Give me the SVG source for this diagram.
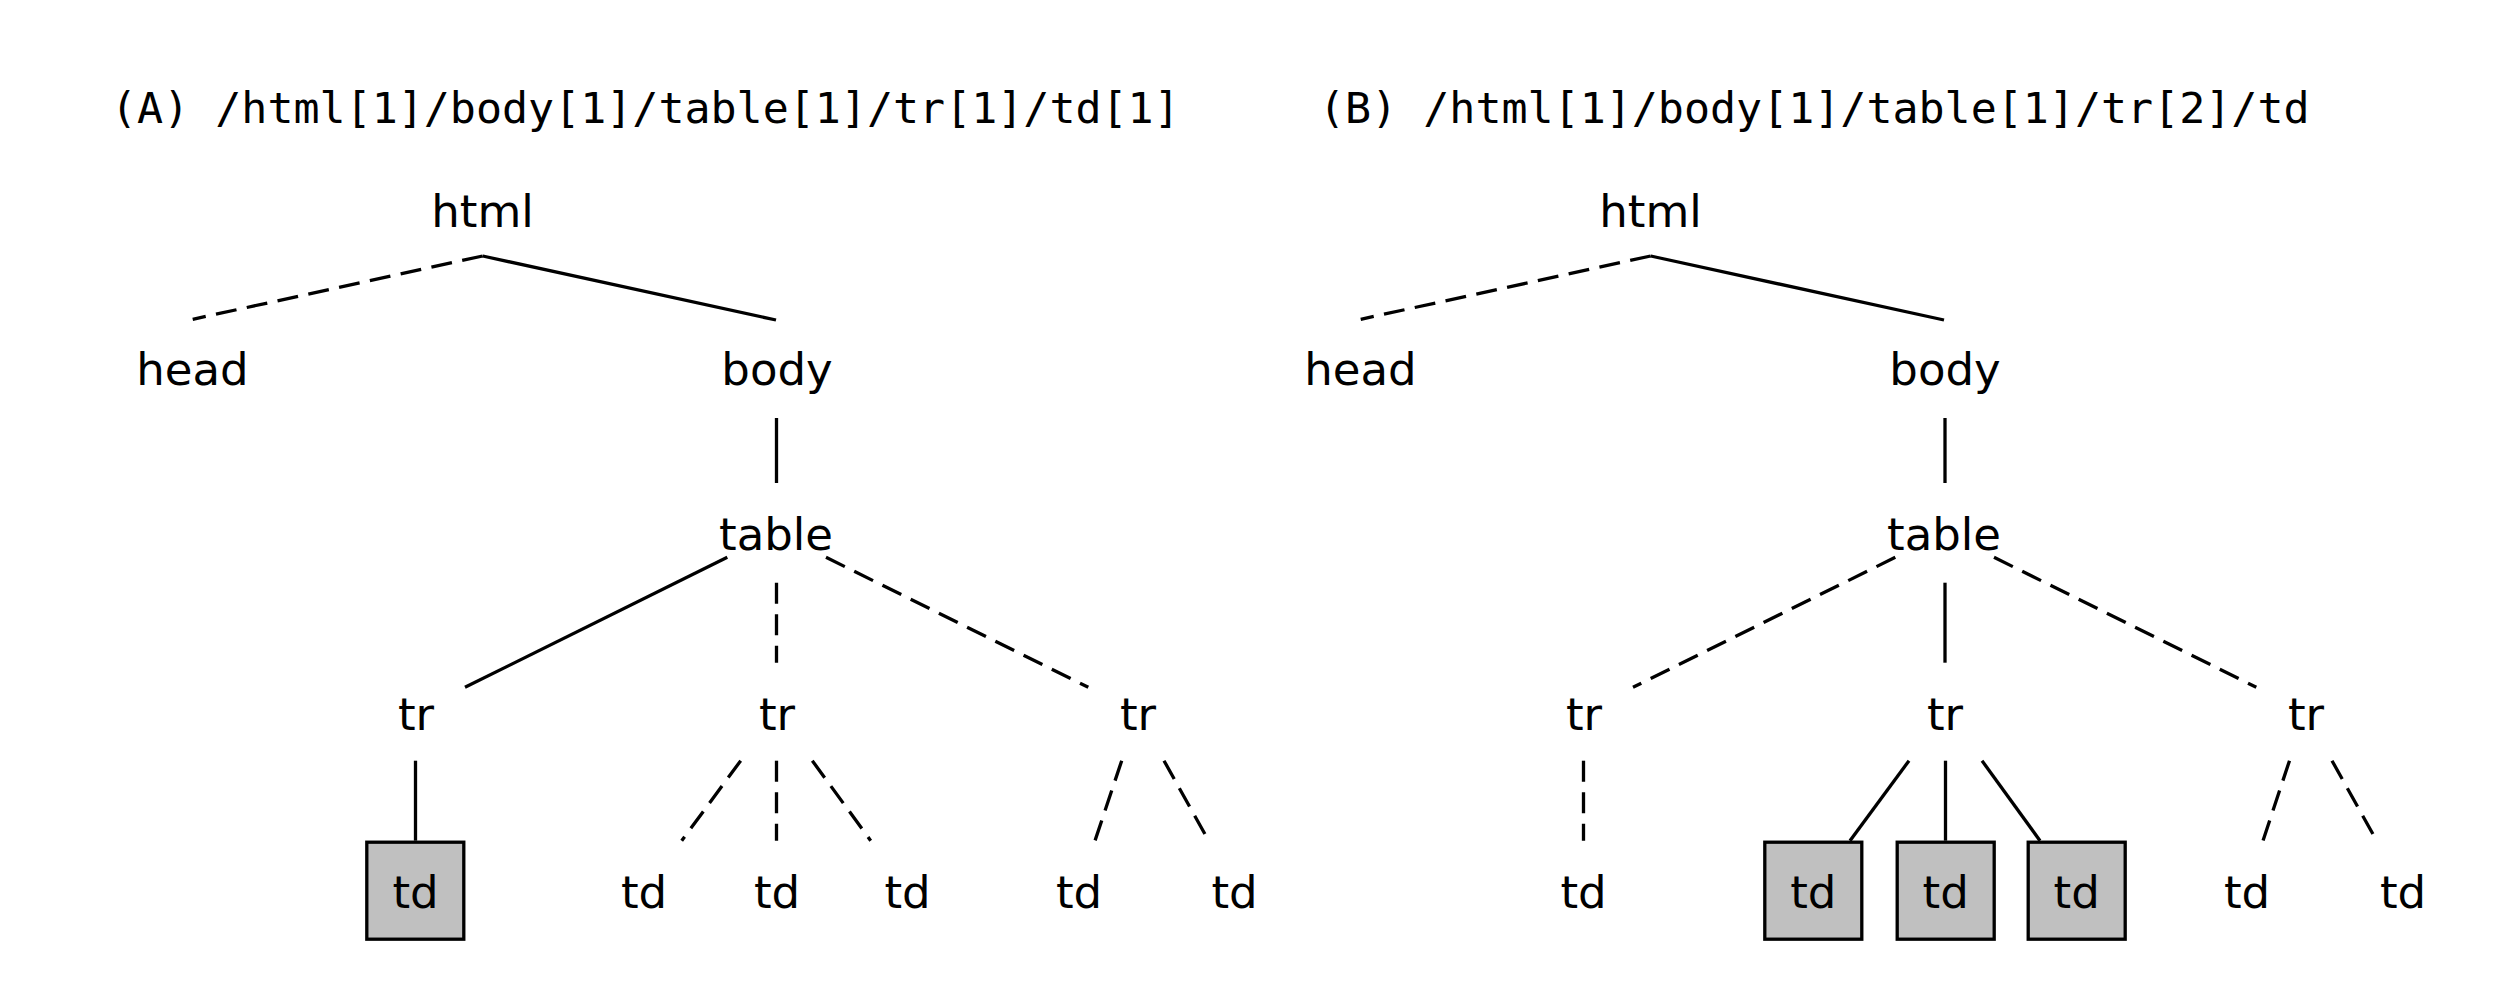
<svg xmlns="http://www.w3.org/2000/svg" width="2513" height="1000" viewBox="0 0 2513 1000">
<style>
.lbl{font-family:"DejaVu Sans",sans-serif;font-size:45px;text-anchor:middle;fill:#000}
.title{font-family:"DejaVu Sans Mono",monospace;font-size:43.3px;fill:#000}
.e{stroke:#000;stroke-width:3.3;fill:none}
.d{stroke-dasharray:21 10.5}
.box{fill:#c0c0c0;stroke:#000;stroke-width:3.3}
</style>
<rect width="2513" height="1000" fill="#fff"/>
<text class="title" x="111" y="123">(A) /html[1]/body[1]/table[1]/tr[1]/td[1]</text>
<text class="title" x="1319" y="123">(B) /html[1]/body[1]/table[1]/tr[2]/td</text>
<g id="connectors">
<line class="e d" x1="482.7" y1="256" x2="192.7" y2="319.3"/>
<line class="e" x1="482.7" y1="256" x2="776" y2="320"/>
<line class="e" x1="776.5" y1="418" x2="776.5" y2="483"/>
<line class="e" x1="727.3" y1="557.3" x2="465" y2="687.3"/>
<line class="e d" x1="776.5" y1="582.7" x2="776.5" y2="662.7"/>
<line class="e d" x1="826" y1="557.3" x2="1088.3" y2="687.3"/>
<line class="e" x1="415.5" y1="760.7" x2="415.5" y2="840.7"/>
<line class="e d" x1="740.7" y1="760.7" x2="681.7" y2="840.7"/>
<line class="e d" x1="776.5" y1="760.7" x2="776.5" y2="840.7"/>
<line class="e d" x1="812.3" y1="760.7" x2="870.7" y2="840.7"/>
<line class="e d" x1="1121.7" y1="760.7" x2="1095" y2="840.7"/>
<line class="e d" x1="1164" y1="760.7" x2="1208.6" y2="840.7"/>
<line class="e d" x1="1650.7" y1="256" x2="1360.7" y2="319.3"/>
<line class="e" x1="1650.7" y1="256" x2="1944" y2="320"/>
<line class="e" x1="1945" y1="418" x2="1945" y2="483"/>
<line class="e d" x1="1895.3" y1="557.3" x2="1633" y2="687.3"/>
<line class="e" x1="1945" y1="582.7" x2="1945" y2="662.7"/>
<line class="e d" x1="1994" y1="557.3" x2="2256.3" y2="687.3"/>
<line class="e d" x1="1583.5" y1="760.7" x2="1583.5" y2="840.7"/>
<line class="e" x1="1909" y1="760.7" x2="1850" y2="840.7"/>
<line class="e" x1="1945.5" y1="760.7" x2="1945.5" y2="840.7"/>
<line class="e" x1="1982" y1="760.7" x2="2040" y2="840.7"/>
<line class="e d" x1="2289.5" y1="760.7" x2="2263" y2="840.7"/>
<line class="e d" x1="2332" y1="760.7" x2="2376.6" y2="840.7"/>
</g>
<g id="a-html"><text class="lbl" x="482.5" y="227">html</text></g>
<g id="a-head"><text class="lbl" x="192.5" y="385">head</text></g>
<g id="a-body"><text class="lbl" x="777" y="385">body</text></g>
<g id="a-table"><text class="lbl" x="776" y="550">table</text></g>
<g id="a-tr1"><text class="lbl" x="416" y="730">tr</text></g>
<g id="a-tr2"><text class="lbl" x="777" y="730">tr</text></g>
<g id="a-tr3"><text class="lbl" x="1138" y="730">tr</text></g>
<g id="a-td1"><rect class="box" x="366.8" y="842.2" width="97" height="97"/><text class="lbl" x="415.5" y="908">td</text></g>
<g id="a-td2"><text class="lbl" x="644" y="908">td</text></g>
<g id="a-td3"><text class="lbl" x="777" y="908">td</text></g>
<g id="a-td4"><text class="lbl" x="907.5" y="908">td</text></g>
<g id="a-td5"><text class="lbl" x="1079" y="908">td</text></g>
<g id="a-td6"><text class="lbl" x="1234.5" y="908">td</text></g>
<g id="b-html"><text class="lbl" x="1650.5" y="227">html</text></g>
<g id="b-head"><text class="lbl" x="1360.5" y="385">head</text></g>
<g id="b-body"><text class="lbl" x="1945" y="385">body</text></g>
<g id="b-table"><text class="lbl" x="1944" y="550">table</text></g>
<g id="b-tr1"><text class="lbl" x="1584" y="730">tr</text></g>
<g id="b-tr2"><text class="lbl" x="1945" y="730">tr</text></g>
<g id="b-tr3"><text class="lbl" x="2306" y="730">tr</text></g>
<g id="b-td1"><text class="lbl" x="1583.5" y="908">td</text></g>
<g id="b-td2"><rect class="box" x="1764.8" y="842.2" width="97" height="97"/><text class="lbl" x="1813.3" y="908">td</text></g>
<g id="b-td3"><rect class="box" x="1897.2" y="842.2" width="97" height="97"/><text class="lbl" x="1945.7" y="908">td</text></g>
<g id="b-td4"><rect class="box" x="2028.2" y="842.2" width="97" height="97"/><text class="lbl" x="2076.7" y="908">td</text></g>
<g id="b-td5"><text class="lbl" x="2247" y="908">td</text></g>
<g id="b-td6"><text class="lbl" x="2403" y="908">td</text></g>
</svg>
